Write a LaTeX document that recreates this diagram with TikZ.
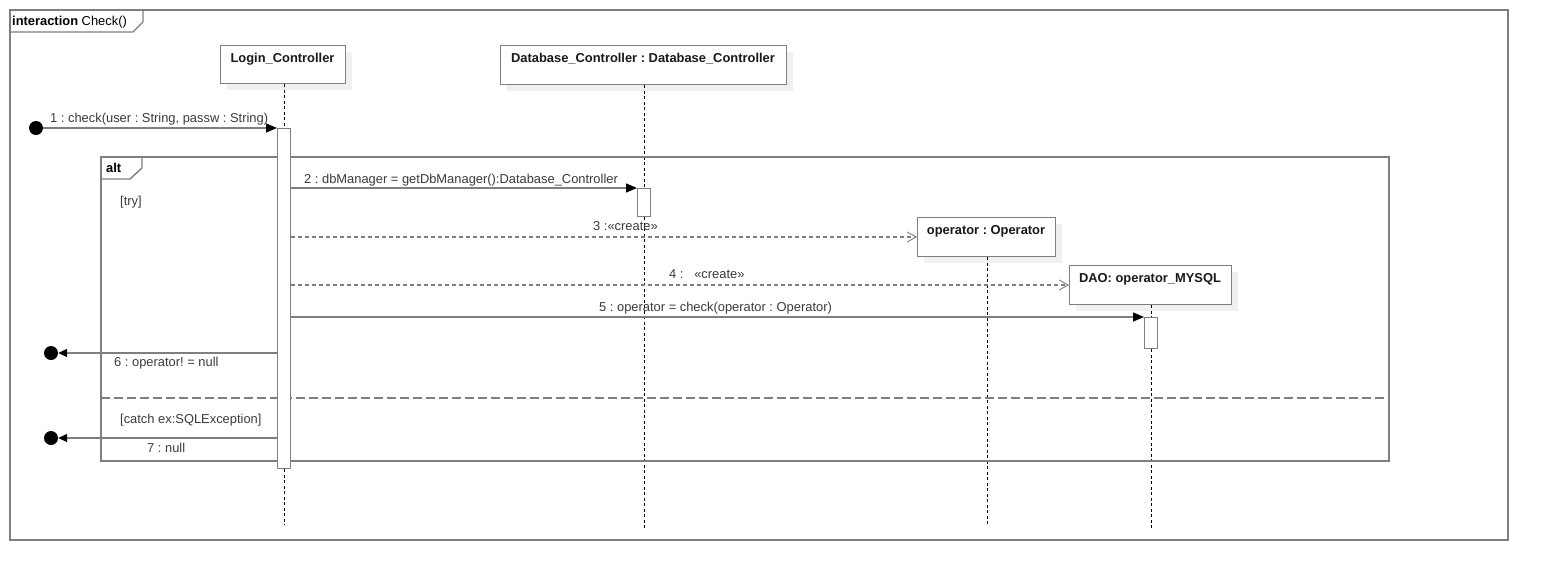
\documentclass[tikz,border=0pt]{standalone}
\usepackage{fontspec}
\setmainfont{Liberation Sans}
\usetikzlibrary{arrows.meta,calc}
\definecolor{lg}{HTML}{7F7F7F}
\definecolor{txt}{HTML}{3A3A3A}
\definecolor{shd}{HTML}{F0F0F0}
\frenchspacing
\begin{document}
\begin{tikzpicture}[x=1pt,y=-1pt,
  frameline/.style={draw=lg,line width=1.4pt},
  headbox/.style={draw=lg,line width=1.3pt,fill=white,anchor=north west,inner sep=0pt},
  headtxt/.style={font=\fontsize{12.9}{14}\selectfont\bfseries,text=black!90,anchor=base,inner sep=0pt},
  msgtxt/.style={font=\fontsize{12.9}{14}\selectfont,text=txt,anchor=base west,inner sep=0pt},
  lifeline/.style={draw=black,line width=0.9pt,dash pattern=on 3pt off 2.5pt},
  actbar/.style={draw=lg,line width=1.3pt,fill=white,anchor=north west,inner sep=0pt,minimum width=13pt},
  syncmsg/.style={draw=lg,line width=1.3pt,-{Triangle[length=11pt,width=9pt,fill=black,color=black]}},
  retmsg/.style={draw=lg,line width=1.3pt,-{Triangle[length=9pt,width=8pt,fill=black,color=black]}},
  createmsg/.style={draw=lg,line width=1.1pt,dash pattern=on 4pt off 3pt,-{Straight Barb[length=9pt,width=10pt,line width=0.9pt]}},
  founddot/.style={circle,fill=black,minimum size=14pt,inner sep=0pt},
]
\useasboundingbox (0,0) rectangle (1549,581);

% outer interaction frame
\draw[frameline] (10,10) rectangle (1508,540);
\draw[frameline] (10,32) -- (133,32) -- (143,22) -- (143,10);
\node[msgtxt,text=black] (title) at (12,25) {\textbf{interaction} Check()};

% lifeline heads with shadows
\fill[shd] (227,52) rectangle (352,90);
\node[headbox,minimum width=125pt,minimum height=38pt] (lc) at (220,45) {};
\node[headtxt] (lct) at (282.5,62) {Login\_Controller};

\fill[shd] (507,52) rectangle (793,91);
\node[headbox,minimum width=286pt,minimum height=39pt] (db) at (500,45) {};
\node[headtxt] (dbt) at (643,62) {Database\_Controller : Database\_Controller};

\fill[shd] (924,224) rectangle (1062,263);
\node[headbox,minimum width=138pt,minimum height=39pt] (op) at (917,217) {};
\node[headtxt] (opt) at (986,234) {operator : Operator};

\fill[shd] (1076,272) rectangle (1238,311);
\node[headbox,minimum width=162pt,minimum height=39pt] (dao) at (1069,265) {};
\node[headtxt] (daot) at (1150,282) {DAO: operator\_MYSQL};

% lifelines
\coordinate (lcEnd) at (284,525);
\coordinate (dbEnd) at (644,530);
\coordinate (opEnd) at (987,525);
\coordinate (daoEnd) at (1151,530);
\draw[lifeline] (lc.south -| lcEnd) -- (lcEnd);
\draw[lifeline] (db.south -| dbEnd) -- (dbEnd);
\draw[lifeline] (op.south -| opEnd) -- (opEnd);
\draw[lifeline] (dao.south -| daoEnd) -- (daoEnd);

% alt fragment
\draw[frameline] (101,157) rectangle (1389,461);
\draw[frameline] (101,179) -- (130,179) -- (142,168) -- (142,157);
\node[msgtxt,text=black] (altt) at (106,172) {\textbf{alt}};
\draw[draw=lg,line width=1.4pt,dash pattern=on 9pt off 4pt] (101,398) -- (1389,398);
\node[msgtxt] (g1) at (120,205) {[try]};
\node[msgtxt] (g2) at (120,423) {[catch ex:SQLException]};

% activation bars
\node[actbar,minimum height=340pt] (a1) at (277,128) {};
\node[actbar,minimum height=28pt] (a2) at (637,188) {};
\node[actbar,minimum height=31pt] (a3) at (1144,317) {};

% message 1
\node[founddot] (d1) at (36,128) {};
\draw[syncmsg] (d1) -- (a1.north west);
\node[msgtxt] (m1) at (50,122) {1 : check(user : String, passw : String)};

% message 2
\draw[syncmsg] (a1.east |- a2.north west) -- (a2.north west);
\node[msgtxt] (m2) at (304,183) {2 : dbManager = getDbManager():Database\_Controller};

% message 3
\coordinate (c3) at (917,237);
\draw[createmsg] (a1.east |- c3) -- (c3);
\node[msgtxt] (m3) at (593,230) {3 :«create»};

% message 4
\coordinate (c4) at (1069,285);
\draw[createmsg] (a1.east |- c4) -- (c4);
\node[msgtxt] (m4) at (669,278) {4 :\ \ \ «create»};

% message 5
\draw[syncmsg] (a1.east |- a3.north west) -- (a3.north west);
\node[msgtxt] (m5) at (599,311) {5 : operator = check(operator : Operator)};

% message 6
\node[founddot] (d6) at (51,353) {};
\draw[retmsg] (a1.west |- d6) -- (d6);
\node[msgtxt] (m6) at (114,366) {6 : operator! = null};

% message 7
\node[founddot] (d7) at (51,438) {};
\draw[retmsg] (a1.west |- d7) -- (d7);
\node[msgtxt] (m7) at (147,452) {7 : null};
\end{tikzpicture}
\end{document}
